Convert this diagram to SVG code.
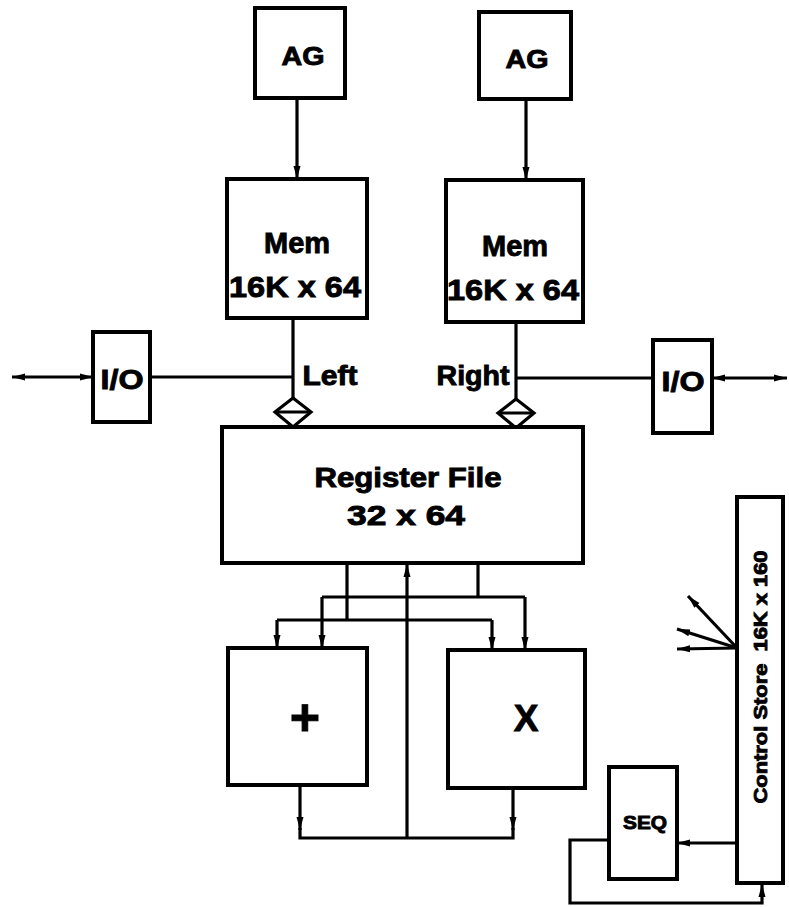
<svg xmlns="http://www.w3.org/2000/svg" width="789" height="907" viewBox="0 0 789 907">
<defs>
<marker id="ah" markerUnits="userSpaceOnUse" markerWidth="14" markerHeight="10" refX="13" refY="5" orient="auto-start-reverse">
<path d="M0,1.5 L13,5 L0,8.5 z" fill="#000"/>
</marker>
</defs>
<style>
.box{fill:#fff;stroke:#000;stroke-width:4}
.ln{fill:none;stroke:#000;stroke-width:3.2}
.t{font-family:"Liberation Sans",Arial,sans-serif;font-weight:bold;fill:#000;stroke:#000;stroke-width:0.9;text-anchor:middle}
</style>
<rect width="789" height="907" fill="#fff"/>
<g id="connectors">
<line class="ln" x1="297" y1="98" x2="297" y2="179" marker-end="url(#ah)"/>
<line class="ln" x1="526" y1="99" x2="526" y2="180" marker-end="url(#ah)"/>
<line class="ln" x1="293" y1="318" x2="293" y2="398"/>
<line class="ln" x1="516" y1="322" x2="516" y2="399"/>
<line class="ln" x1="150" y1="377" x2="293" y2="377"/>
<line class="ln" x1="516" y1="378" x2="653" y2="378"/>
<line class="ln" x1="12" y1="377" x2="93" y2="377" marker-start="url(#ah)" marker-end="url(#ah)"/>
<line class="ln" x1="787" y1="378" x2="712" y2="378" marker-start="url(#ah)" marker-end="url(#ah)"/>
<polygon class="ln" points="293,398 311,412 293,427 275,412" fill="#fff"/>
<line class="ln" x1="275" y1="412" x2="311" y2="412"/>
<polygon class="ln" points="516,399 534,413 516,428 498,413" fill="#fff"/>
<line class="ln" x1="498" y1="413" x2="534" y2="413"/>
<line class="ln" x1="347" y1="563" x2="347" y2="620"/>
<line class="ln" x1="478" y1="563" x2="478" y2="597"/>
<line class="ln" x1="322" y1="597" x2="525" y2="597"/>
<line class="ln" x1="277" y1="620" x2="492" y2="620"/>
<line class="ln" x1="277" y1="620" x2="277" y2="648" marker-end="url(#ah)"/>
<line class="ln" x1="322" y1="597" x2="322" y2="648" marker-end="url(#ah)"/>
<line class="ln" x1="492" y1="620" x2="492" y2="650" marker-end="url(#ah)"/>
<line class="ln" x1="525" y1="597" x2="525" y2="650" marker-end="url(#ah)"/>
<line class="ln" x1="407" y1="838" x2="407" y2="564" marker-end="url(#ah)"/>
<line class="ln" x1="300" y1="785" x2="300" y2="830" marker-end="url(#ah)"/>
<line class="ln" x1="513" y1="788" x2="513" y2="830" marker-end="url(#ah)"/>
<polyline class="ln" points="300,828 300,838 513,838 513,828"/>
<line class="ln" x1="737" y1="648" x2="688" y2="596" marker-end="url(#ah)"/>
<line class="ln" x1="737" y1="648" x2="677" y2="629" marker-end="url(#ah)"/>
<line class="ln" x1="737" y1="648" x2="677" y2="649" marker-end="url(#ah)"/>
<line class="ln" x1="737" y1="843" x2="677" y2="843" marker-end="url(#ah)"/>
<polyline class="ln" points="609,840 570,840 570,903 762,903 762,884" marker-end="url(#ah)"/>
</g>
<g id="ag-left"><rect class="box" x="255" y="8" width="90" height="90"/><text class="t" x="303" y="65" font-size="26" textLength="43" lengthAdjust="spacingAndGlyphs">AG</text></g>
<g id="ag-right"><rect class="box" x="479" y="12" width="92" height="87"/><text class="t" x="527" y="68" font-size="26" textLength="43" lengthAdjust="spacingAndGlyphs">AG</text></g>
<g id="mem-left"><rect class="box" x="227" y="179" width="140" height="139"/><text class="t" x="297" y="253" font-size="30" textLength="66" lengthAdjust="spacingAndGlyphs">Mem</text><text class="t" x="295" y="297" font-size="30" textLength="132" lengthAdjust="spacingAndGlyphs">16K x 64</text></g>
<g id="mem-right"><rect class="box" x="446" y="180" width="137" height="142"/><text class="t" x="515" y="256" font-size="30" textLength="66" lengthAdjust="spacingAndGlyphs">Mem</text><text class="t" x="513" y="300" font-size="30" textLength="132" lengthAdjust="spacingAndGlyphs">16K x 64</text></g>
<g id="io-left"><rect class="box" x="93" y="332" width="57" height="90"/><text class="t" x="122" y="389" font-size="28" textLength="43" lengthAdjust="spacingAndGlyphs">I/O</text></g>
<g id="io-right"><rect class="box" x="653" y="340" width="59" height="93"/><text class="t" x="683" y="391" font-size="28" textLength="43" lengthAdjust="spacingAndGlyphs">I/O</text></g>
<text class="t" x="330" y="385" font-size="27" textLength="55" lengthAdjust="spacingAndGlyphs">Left</text>
<text class="t" x="473" y="385" font-size="27" textLength="73" lengthAdjust="spacingAndGlyphs">Right</text>
<g id="register-file"><rect class="box" x="222" y="427" width="361" height="136"/><text class="t" x="408" y="487" font-size="27" textLength="187" lengthAdjust="spacingAndGlyphs">Register File</text><text class="t" x="406" y="525" font-size="27" textLength="118" lengthAdjust="spacingAndGlyphs">32 x 64</text></g>
<g id="adder"><rect class="box" x="228" y="648" width="139" height="137"/><text class="t" x="305" y="735" font-size="52">+</text></g>
<g id="multiplier"><rect class="box" x="448" y="650" width="137" height="138"/><text class="t" x="526" y="731" font-size="37">X</text></g>
<g id="control-store"><rect class="box" x="737" y="497" width="46" height="386"/><text class="t" font-size="19" transform="translate(767,677) rotate(-90)" textLength="253" lengthAdjust="spacingAndGlyphs" xml:space="preserve">Control Store  16K x 160</text></g>
<g id="seq"><rect class="box" x="609" y="767" width="68" height="112"/><text class="t" x="645" y="829" font-size="18" textLength="44" lengthAdjust="spacingAndGlyphs">SEQ</text></g>
</svg>
